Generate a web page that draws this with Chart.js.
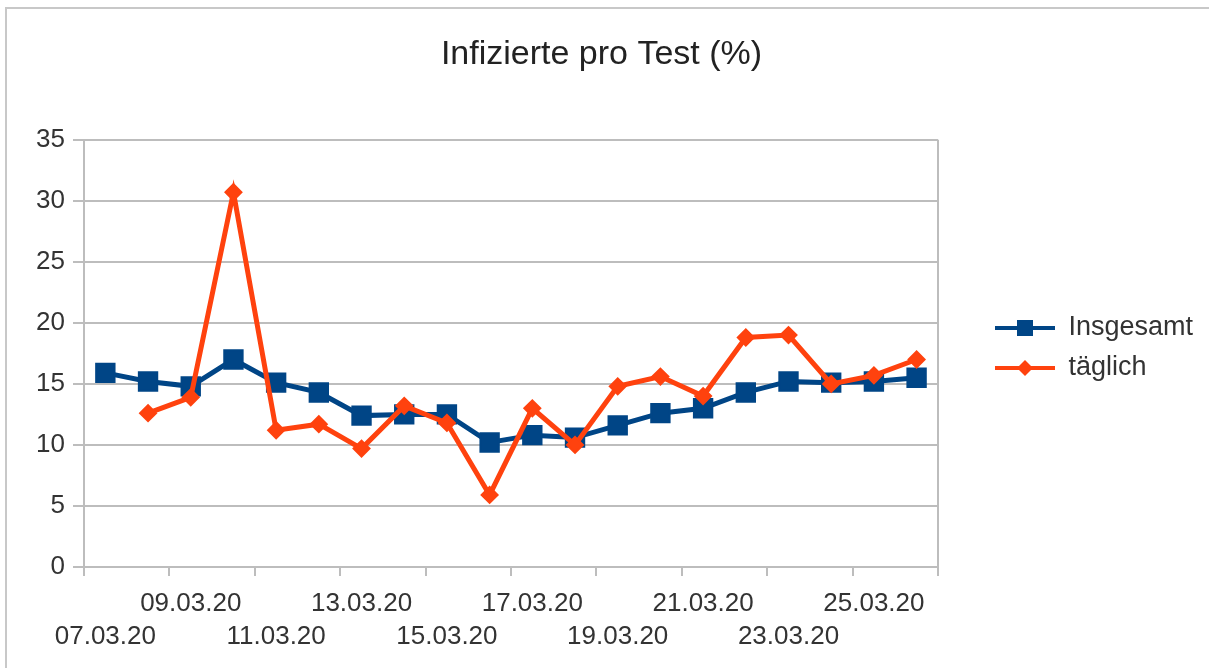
<!DOCTYPE html>
<html>
<head>
<meta charset="utf-8">
<title>Infizierte pro Test (%)</title>
<script src="https://cdn.jsdelivr.net/npm/chart.js@4"></script>
<style>
  html, body { margin: 0; padding: 0; background: #fff; }
  #wrap { position: relative; width: 1209px; height: 668px; overflow: hidden; }
  #frame { position: absolute; left: 5px; top: 7px; width: 1210px; height: 700px;
           border-left: 2px solid #c8c8c8; border-top: 2px solid #c8c8c8; }
  #chart { position: absolute; left: 0; top: 0; }
</style>
</head>
<body>
<div id="wrap">
  <div id="frame"></div>
  <canvas id="chart" width="1209" height="668"></canvas>
</div>
<script>
// Tage 07.03.20 - 26.03.20
const days = [
  "07.03.20", "08.03.20", "09.03.20", "10.03.20", "11.03.20",
  "12.03.20", "13.03.20", "14.03.20", "15.03.20", "16.03.20",
  "17.03.20", "18.03.20", "19.03.20", "20.03.20", "21.03.20",
  "22.03.20", "23.03.20", "24.03.20", "25.03.20", "26.03.20"
];

const insgesamt = [
  15.9, 15.2, 14.8, 17.0, 15.1, 14.3, 12.4, 12.5, 12.5, 10.2,
  10.8, 10.6, 11.6, 12.6, 13.0, 14.3, 15.2, 15.1, 15.2, 15.5
];

const taeglich = [
  null, 12.6, 13.9, 30.7, 11.2, 11.7, 9.7, 13.2, 11.8, 5.9,
  13.0, 10.0, 14.8, 15.6, 14.0, 18.8, 19.0, 15.0, 15.7, 17.0
];

const yMin = 0;
const yMax = 35;
const yStep = 5;

const BLUE = "#004586";
const ORANGE = "#ff420e";
const GRID = "#bdbdbd";

Chart.defaults.font.family = '"Liberation Sans", Arial, sans-serif';

// kleines Bild fuer die Legende: Linie mit Marker (links frei als Abstand)
function legendIcon(color, shape) {
  const c = document.createElement("canvas");
  c.width = 104;
  c.height = 24;
  const g = c.getContext("2d");
  g.strokeStyle = color;
  g.lineWidth = 4;
  g.beginPath();
  g.moveTo(44, 12);
  g.lineTo(104, 12);
  g.stroke();
  g.fillStyle = color;
  if (shape === "rect") {
    g.fillRect(66, 4, 16, 16);
  } else {
    g.beginPath();
    g.moveTo(74, 4);
    g.lineTo(82, 12);
    g.lineTo(74, 20);
    g.lineTo(66, 12);
    g.closePath();
    g.fill();
  }
  return c;
}

const icons = [legendIcon(BLUE, "rect"), legendIcon(ORANGE, "diamond")];

new Chart(document.getElementById("chart"), {
  type: "line",
  data: {
    labels: days,
    datasets: [
      {
        label: "Insgesamt",
        data: insgesamt,
        order: 1,
        borderColor: BLUE,
        backgroundColor: BLUE,
        borderWidth: 5,
        pointStyle: "rect",
        pointRadius: 13,
        pointBorderWidth: 2,
        tension: 0,
        fill: false,
      },
      {
        label: "täglich",
        data: taeglich,
        order: 0,
        borderColor: ORANGE,
        backgroundColor: ORANGE,
        borderWidth: 5,
        pointStyle: "rectRot",
        pointRadius: 8,
        pointBorderWidth: 2,
        tension: 0,
        fill: false,
      },
    ],
  },
  options: {
    responsive: false,
    animation: false,
    layout: {
      padding: { top: 10, left: 0, bottom: 4, right: 6 },
    },
    plugins: {
      tooltip: { enabled: false },
      title: {
        display: true,
        text: "Infizierte pro Test (%)",
        color: "#222",
        font: { size: 34, weight: "normal" },
        padding: { top: 24, bottom: 65 },
      },
      legend: {
        position: "right",
        title: { display: true, text: "", font: { size: 10 }, padding: 5 },
        labels: {
          usePointStyle: true,
          pointStyleWidth: 104,
          padding: 13,
          color: "#333",
          font: { size: 27 },
          generateLabels(chart) {
            const items = Chart.defaults.plugins.legend.labels.generateLabels(chart);
            items.sort((a, b) => a.datasetIndex - b.datasetIndex);
            items.forEach((it) => { it.pointStyle = icons[it.datasetIndex]; });
            return items;
          },
        },
      },
    },
    scales: {
      x: {
        offset: true,
        ticks: {
          autoSkip: false,
          maxRotation: 0,
          minRotation: 0,
          padding: 11,
          color: "#333",
          font: { size: 26, lineHeight: 1.27 },
          callback(value, index) {
            const label = this.getLabelForValue(value);
            if (index % 2) return "";
            return index % 4 === 0 ? ["", label] : [label, ""];
          },
        },
        grid: {
          offset: true,
          lineWidth: 2,
          tickLength: 9,
          color: (ctx) => (ctx.type === "scale" ? GRID : "rgba(0,0,0,0)"),
          tickColor: (ctx) => (ctx.type === "scale" || ctx.index % 2 === 0 ? GRID : "rgba(0,0,0,0)"),
        },
        border: { color: GRID, width: 2 },
      },
      y: {
        min: yMin,
        max: yMax,
        afterFit(scale) {
          scale.width = 84;
        },
        ticks: {
          stepSize: yStep,
          padding: 8,
          color: "#333",
          font: { size: 26 },
        },
        grid: {
          color: GRID,
          lineWidth: 2,
          tickLength: 11,
        },
        border: { color: GRID, width: 2 },
      },
    },
  },
});
</script>
</body>
</html>
